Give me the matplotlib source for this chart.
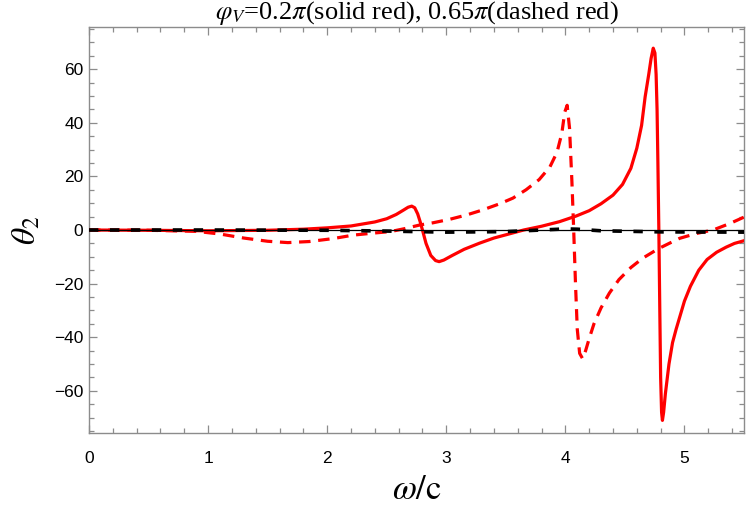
import matplotlib
matplotlib.use("Agg")
import matplotlib.pyplot as plt
from matplotlib.ticker import MultipleLocator

plt.rcParams['mathtext.fontset'] = 'stix'

# Solid red: phi_V = 0.2 pi
solid_x = [0.0, 0.5, 1.0, 1.5, 1.8, 2.0, 2.2, 2.4, 2.5, 2.58, 2.64, 2.68, 2.71, 2.735, 2.76, 2.78, 2.80,
           2.83, 2.87, 2.91, 2.94, 2.98, 3.05, 3.15, 3.28, 3.4, 3.5, 3.65, 3.8, 3.95, 4.09, 4.2,
           4.3, 4.4, 4.48, 4.55, 4.60, 4.64, 4.67, 4.70, 4.72, 4.738, 4.752, 4.762, 4.770,
           4.777, 4.785, 4.793, 4.80, 4.808, 4.815, 4.825, 4.84, 4.87, 4.90, 4.93, 4.96, 5.00,
           5.05, 5.12, 5.19, 5.27, 5.35, 5.42, 5.5]
solid_y = [0.0, -0.1, -0.3, -0.1, 0.3, 0.8, 1.5, 3.0, 4.2, 5.8, 7.4, 8.5, 8.9, 8.3, 6.0, 3.2, 0.0,
           -5.0, -9.5, -11.4, -11.8, -11.2, -9.5, -7.2, -4.9, -3.0, -1.8, 0.0, 1.4, 3.1, 5.2, 7.2,
           9.8, 13.0, 17.0, 23.0, 30.5, 39.0, 49.7, 58.0, 64.0, 67.8, 66.0, 58.0, 45.0,
           25.0, 0.0, -30.0, -55.0, -68.0, -71.0, -68.0, -61.0, -50.0, -42.0, -37.0, -32.5, -26.5,
           -21.0, -15.0, -11.0, -8.3, -6.4, -5.0, -4.0]

# Dashed red: phi_V = 0.65 pi
dash_x = [0.0, 0.5, 0.9, 1.1, 1.3, 1.5, 1.67, 1.85, 2.05, 2.22, 2.4, 2.53, 2.65, 2.78, 2.89,
          3.03, 3.17, 3.3, 3.45, 3.56, 3.67, 3.78, 3.87, 3.93, 3.97, 3.995, 4.015, 4.035, 4.055,
          4.07, 4.085, 4.10, 4.12, 4.145, 4.17, 4.20, 4.24, 4.30, 4.37, 4.45, 4.55, 4.65, 4.78,
          4.88, 4.96, 5.1, 5.24, 5.38, 5.5]
dash_y = [0.0, -0.1, -0.5, -1.5, -3.0, -4.2, -4.7, -4.3, -3.2, -1.9, -1.1, -0.6, 0.5, 1.9, 2.7,
          4.0, 5.6, 7.4, 9.8, 11.9, 15.0, 18.8, 23.5, 29.0, 36.0, 44.0, 46.5, 38.0, 18.0,
          0.0, -20.0, -37.0, -46.0, -48.0, -45.0, -40.5, -35.0, -29.0, -23.5, -18.5, -14.0, -10.5,
          -7.0, -4.8, -3.1, -1.3, 0.0, 2.4, 4.8]

# Black solid (reference, flat)
ref_x = [0.0, 5.5]
ref_y = [0.0, 0.0]

# Black dashed (small deviations)
blk_x = [0.0, 1.0, 2.0, 2.5, 3.0, 3.5, 3.8, 4.0, 4.1, 4.3, 4.8, 5.5]
blk_y = [0.0, 0.0, -0.1, -0.4, -0.8, -0.6, 0.0, 0.4, 0.3, -0.3, -0.7, -0.8]

fig = plt.figure(figsize=(7.47, 5.12), dpi=100)
ax = fig.add_axes([89/747, 1-433/512, (744-89)/747, (433-27)/512])

ax.plot(solid_x, solid_y, color='#ff0000', lw=2.3, solid_joinstyle='round', zorder=3)
ax.plot(dash_x, dash_y, color='#ff0000', lw=2.3, dashes=(3.6, 2.4), zorder=3)
ax.plot(ref_x, ref_y, color='black', lw=0.9, zorder=4)
ax.plot(blk_x, blk_y, color='black', lw=2.6, dashes=(2.6, 3.2), zorder=5)

ax.set_xlim(0, 5.5)
ax.set_ylim(-75.7, 75.7)
ax.xaxis.set_major_locator(MultipleLocator(1))
ax.xaxis.set_minor_locator(MultipleLocator(0.2))
ax.yaxis.set_major_locator(MultipleLocator(20))
ax.yaxis.set_minor_locator(MultipleLocator(5))

gray = '#8c8c8c'
for s in ax.spines.values():
    s.set_color(gray)
    s.set_linewidth(1.0)
ax.tick_params(which='both', direction='in', top=True, right=True, color=gray,
               labelsize=12.5, labelcolor='black', width=0.9)
ax.tick_params(which='major', length=6)
ax.tick_params(which='minor', length=3.5)
ax.tick_params(axis='x', which='major', pad=13)
ax.tick_params(axis='y', which='major', pad=4)
for lab in ax.get_xticklabels() + ax.get_yticklabels():
    lab.set_family('Liberation Sans')

ax.set_title(r"$\varphi_V$=0.2$\pi$(solid red), 0.65$\pi$(dashed red)",
             fontsize=19, family='Liberation Serif', pad=3)
ax.set_xlabel(r"$\omega/\mathrm{c}$", fontsize=25, labelpad=4)
ax.set_ylabel(r"$\theta_2$", fontsize=24, labelpad=8)

fig.savefig("out.png", dpi=100)
